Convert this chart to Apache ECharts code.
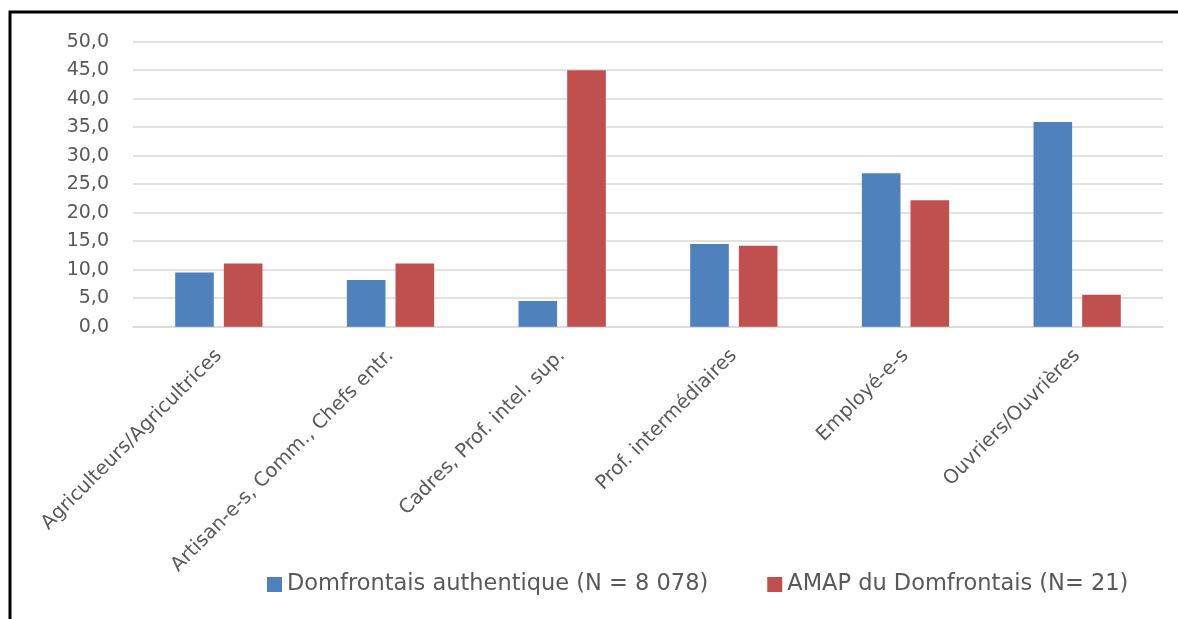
<!DOCTYPE html>
<html>
<head>
<meta charset="utf-8">
<script src="https://cdn.jsdelivr.net/npm/echarts@6/dist/echarts.min.js"></script>
<style>html,body{margin:0;padding:0;background:#fff}#c{width:1178px;height:619px}</style>
</head>
<body>
<div id="c"></div>
<script>
const categories = ["Agriculteurs/Agricultrices", "Artisan-e-s, Comm., Chefs entr.", "Cadres, Prof. intel. sup.", "Prof. intermédiaires", "Employé-e-s", "Ouvriers/Ouvrières"];
const seriesNames = ["Domfrontais authentique (N = 8 078)", "AMAP du Domfrontais (N= 21)"];
const domfrontais = [9.5, 8.2, 4.5, 14.5, 26.9, 35.9];
const amap = [11.1, 11.1, 45.0, 14.2, 22.2, 5.6];
const yTicks = [0, 5, 10, 15, 20, 25, 30, 35, 40, 45, 50];

const FONT = 'DejaVu Sans';
const chart = echarts.init(document.getElementById('c'), null, {renderer: 'canvas'});
chart.setOption({
  animation: false,
  backgroundColor: '#ffffff',
  textStyle: {fontFamily: FONT},
  graphic: [{
    type: 'rect', shape: {x: 10, y: 12, width: 1400, height: 800},
    style: {fill: 'none', stroke: '#000', lineWidth: 3}, silent: true, z: 100
  }],
  grid: {left: 133, right: 15, top: 41.7, bottom: 292.3, containLabel: false},
  legend: {
    data: seriesNames,
    left: 262, top: 568,
    itemWidth: 15, itemHeight: 15, itemGap: 59,
    icon: 'rect',
    textStyle: {fontFamily: FONT, fontSize: 22.5, color: '#595959'}
  },
  xAxis: {
    type: 'category',
    data: categories,
    axisTick: {show: false},
    axisLine: {show: true, lineStyle: {color: '#d9d9d9', width: 1.5}},
    axisLabel: {rotate: 45, interval: 0, margin: 26, fontFamily: FONT, fontSize: 19.5, color: '#595959'}
  },
  yAxis: {
    type: 'value', min: yTicks[0], max: yTicks[yTicks.length - 1], interval: 5,
    axisLine: {show: false}, axisTick: {show: false},
    splitLine: {lineStyle: {color: '#d9d9d9', width: 1.5}},
    axisLabel: {margin: 24, fontFamily: FONT, fontSize: 19, color: '#595959',
      formatter: v => v.toFixed(1).replace('.', ',')}
  },
  series: [
    {name: seriesNames[0], type: 'bar', data: domfrontais, barWidth: '22.5%', barGap: '26%',
     itemStyle: {color: '#4f81bd'}},
    {name: seriesNames[1], type: 'bar', data: amap, barWidth: '22.5%', barGap: '26%',
     itemStyle: {color: '#c0504d'}}
  ]
});
</script>
</body>
</html>
